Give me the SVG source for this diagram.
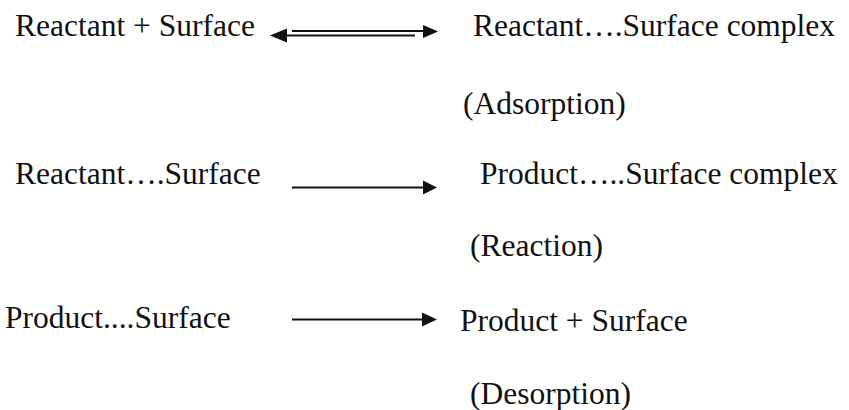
<svg xmlns="http://www.w3.org/2000/svg" width="849" height="410" viewBox="0 0 849 410">
<style>
text{font-family:"Liberation Serif","Times New Roman",serif;font-size:31.5px;fill:#111}
.ln{stroke:#111;stroke-width:2;fill:none}
.hd{fill:#111}
</style>
<rect width="849" height="410" fill="#fff"/>
<g id="r1-left"><text x="15" y="36">Reactant + Surface</text></g>
<g id="r1-right"><text x="473" y="36">Reactant….Surface complex</text></g>
<g id="r1-label"><text x="463" y="114">(Adsorption)</text></g>
<g id="r2-left"><text x="15" y="184">Reactant….Surface</text></g>
<g id="r2-right"><text x="480" y="184">Product…..Surface complex</text></g>
<g id="r2-label"><text x="470" y="256">(Reaction)</text></g>
<g id="r3-left"><text x="5" y="328">Product....Surface</text></g>
<g id="r3-right"><text x="460" y="331">Product + Surface</text></g>
<g id="r3-label"><text x="470" y="404">(Desorption)</text></g>
<g id="connectors">
<line class="ln" x1="292" y1="31" x2="425" y2="31"/>
<polygon class="hd" points="438,31.5 423,25 423,38"/>
<line class="ln" x1="285" y1="35.5" x2="415" y2="35.5"/>
<polygon class="hd" points="270,35.5 287,28.5 287,42.5"/>
<line class="ln" x1="292" y1="187.5" x2="424" y2="187.5"/>
<polygon class="hd" points="437,187.5 423,180.5 423,194.5"/>
<line class="ln" x1="292" y1="319.5" x2="423" y2="319.5"/>
<polygon class="hd" points="437,319.5 422,312.5 422,326.5"/>
</g>
</svg>
